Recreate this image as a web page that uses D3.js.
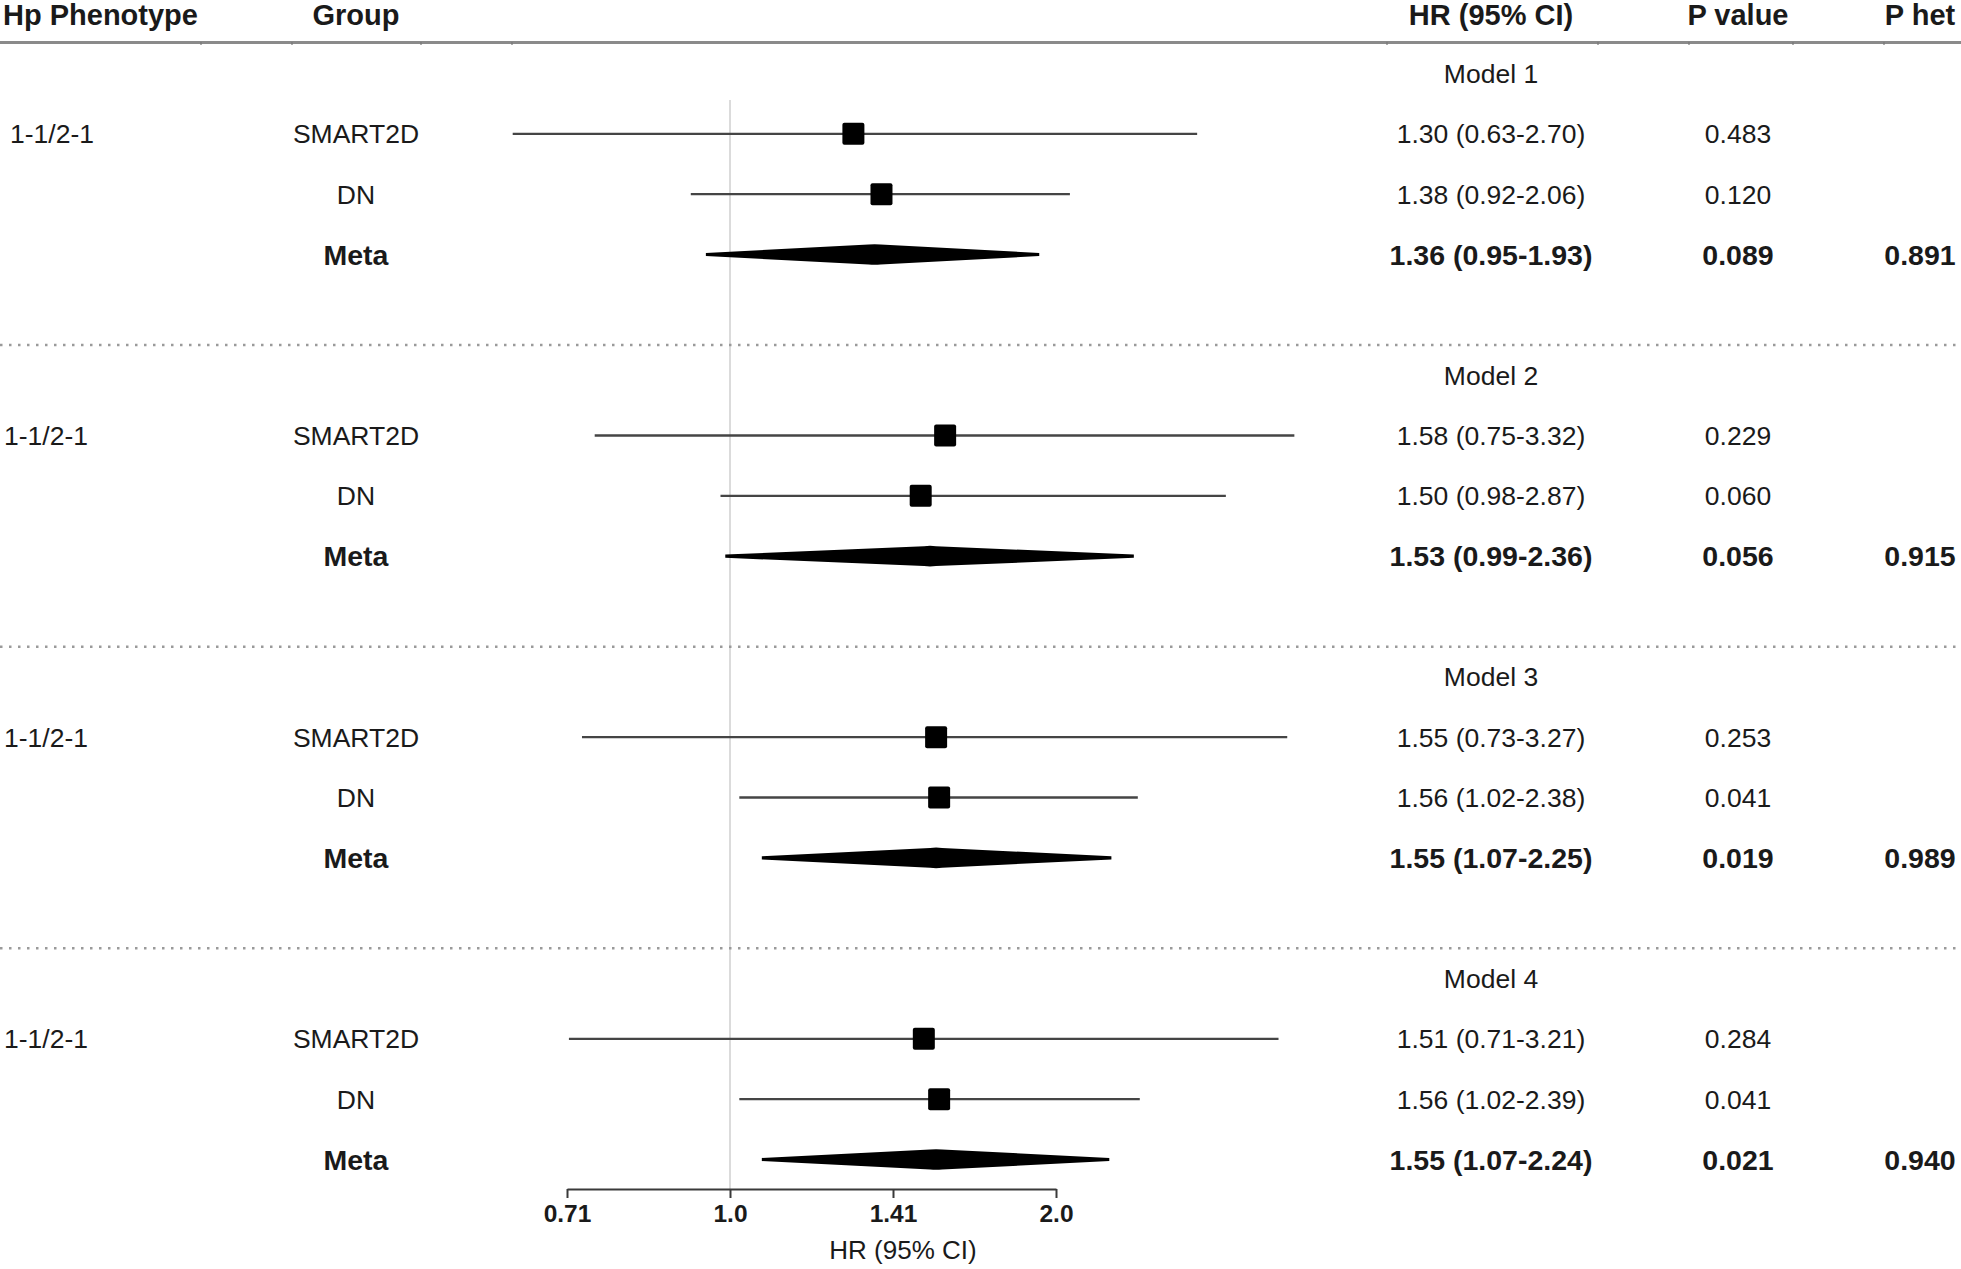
<!DOCTYPE html>
<html>
<head>
<meta charset="utf-8">
<script src="https://cdn.jsdelivr.net/npm/d3@7"></script>
<style>
  html, body { margin: 0; padding: 0; background: #fff; }
  svg { display: block; }
  text { font-family: "Liberation Sans", Arial, Helvetica, sans-serif; fill: #1a1a1a; }
</style>
</head>
<body>
<svg id="chart" width="1961" height="1269"></svg>
<script>
// ---------------- data ----------------
const models = ["Model 1", "Model 2", "Model 3", "Model 4"];
const phenotypes = ["1-1/2-1", "1-1/2-1", "1-1/2-1", "1-1/2-1"];
const groups = ["SMART2D", "DN", "Meta"];
const hrValues = [
  [1.30, 1.38, 1.36],
  [1.58, 1.50, 1.53],
  [1.55, 1.56, 1.55],
  [1.51, 1.56, 1.55]
];
const ciLower = [
  [0.63, 0.92, 0.95],
  [0.75, 0.98, 0.99],
  [0.73, 1.02, 1.07],
  [0.71, 1.02, 1.07]
];
const ciUpper = [
  [2.70, 2.06, 1.93],
  [3.32, 2.87, 2.36],
  [3.27, 2.38, 2.25],
  [3.21, 2.39, 2.24]
];
const pValues = [
  ["0.483", "0.120", "0.089"],
  ["0.229", "0.060", "0.056"],
  ["0.253", "0.041", "0.019"],
  ["0.284", "0.041", "0.021"]
];
const pHet = ["0.891", "0.915", "0.989", "0.940"];
const headers = ["Hp Phenotype", "Group", "HR (95% CI)", "P value", "P het"];
const tickValues = [0.7071, 1.0, 1.4142, 2.0];
const tickLabels = ["0.71", "1.0", "1.41", "2.0"];
const axisTitle = "HR (95% CI)";

// ---------------- layout ----------------
const W = 1961, H = 1269;
const svg = d3.select("#chart");
const x = d3.scaleLog().domain([1, 2]).range([730, 1056]);
const y = d3.scaleLinear().domain([0, 18]).range([73.5, 1159.5]);
const colGroup = 356, colHR = 1491, colP = 1738, colHet = 1920;
const phenoX = [10, 4, 4, 4];
const regSize = 26.5, boldSize = 28.5, headSize = 29;
const axisY = 1189;

const fmt = d3.format(".2f");

// header
const headerPos = [
  {x: 3, anchor: "start"}, {x: colGroup, anchor: "middle"}, {x: colHR, anchor: "middle"},
  {x: colP, anchor: "middle"}, {x: colHet, anchor: "middle"}
];
svg.append("g").selectAll("text").data(headers).join("text")
  .attr("x", (d, i) => headerPos[i].x)
  .attr("y", 25)
  .attr("text-anchor", (d, i) => headerPos[i].anchor)
  .attr("font-size", headSize)
  .attr("font-weight", "bold")
  .text(d => d);

// header rule
svg.append("line").attr("x1", 0).attr("x2", W).attr("y1", 42.5).attr("y2", 42.5)
  .attr("stroke", "#8a8a8a").attr("stroke-width", 3);
svg.append("g").selectAll("line").data([201, 292, 421, 512, 1387, 1598, 1689, 1793, 1884]).join("line")
  .attr("x1", d => d).attr("x2", d => d).attr("y1", 42).attr("y2", 45)
  .attr("stroke", "#777").attr("stroke-width", 1.2);

// reference line at HR = 1
svg.append("line").attr("x1", x(1)).attr("x2", x(1)).attr("y1", 100).attr("y2", axisY)
  .attr("stroke", "#cfcfcf").attr("stroke-width", 1.5);

// separators
svg.append("g").selectAll("line").data([0, 1, 2]).join("line")
  .attr("x1", 0).attr("x2", W)
  .attr("y1", d => y(d * 5 + 4.5)).attr("y2", d => y(d * 5 + 4.5))
  .attr("stroke", "#9a9a9a").attr("stroke-width", 2.5)
  .attr("stroke-dasharray", "2.5,6.5");

// build rows
const rows = [];
models.forEach((m, b) => {
  groups.forEach((g, k) => {
    rows.push({
      block: b, k: k, idx: b * 5 + 1 + k, group: g, meta: g === "Meta",
      hr: hrValues[b][k], lo: ciLower[b][k], hi: ciUpper[b][k],
      p: pValues[b][k], het: g === "Meta" ? pHet[b] : ""
    });
  });
});

const base = (size) => 0.36 * size;

// model labels
svg.append("g").selectAll("text").data(models).join("text")
  .attr("x", colHR).attr("y", (d, i) => y(i * 5) + base(regSize))
  .attr("text-anchor", "middle").attr("font-size", regSize).text(d => d);

// phenotype labels
svg.append("g").selectAll("text").data(phenotypes).join("text")
  .attr("x", (d, i) => phenoX[i]).attr("y", (d, i) => y(i * 5 + 1) + base(regSize))
  .attr("font-size", regSize).text(d => d);

// text columns
const txt = svg.append("g");
txt.selectAll("text.grp").data(rows).join("text").attr("class", "grp")
  .attr("x", colGroup).attr("y", d => y(d.idx) + base(d.meta ? boldSize : regSize))
  .attr("text-anchor", "middle")
  .attr("font-size", d => d.meta ? boldSize : regSize)
  .attr("font-weight", d => d.meta ? "bold" : "normal")
  .text(d => d.group);
txt.selectAll("text.hr").data(rows).join("text").attr("class", "hr")
  .attr("x", colHR).attr("y", d => y(d.idx) + base(d.meta ? boldSize : regSize))
  .attr("text-anchor", "middle")
  .attr("font-size", d => d.meta ? boldSize : regSize)
  .attr("font-weight", d => d.meta ? "bold" : "normal")
  .text(d => `${fmt(d.hr)} (${fmt(d.lo)}-${fmt(d.hi)})`);
txt.selectAll("text.pv").data(rows).join("text").attr("class", "pv")
  .attr("x", colP).attr("y", d => y(d.idx) + base(d.meta ? boldSize : regSize))
  .attr("text-anchor", "middle")
  .attr("font-size", d => d.meta ? boldSize : regSize)
  .attr("font-weight", d => d.meta ? "bold" : "normal")
  .text(d => d.p);
txt.selectAll("text.het").data(rows.filter(d => d.meta)).join("text").attr("class", "het")
  .attr("x", colHet).attr("y", d => y(d.idx) + base(boldSize))
  .attr("text-anchor", "middle")
  .attr("font-size", boldSize).attr("font-weight", "bold")
  .text(d => d.het);

// CI lines and boxes for study rows
const studies = rows.filter(d => !d.meta);
const marks = svg.append("g");
marks.selectAll("line.ci").data(studies).join("line").attr("class", "ci")
  .attr("x1", d => x(d.lo)).attr("x2", d => x(d.hi))
  .attr("y1", d => y(d.idx)).attr("y2", d => y(d.idx))
  .attr("stroke", "#454545").attr("stroke-width", 2.4);
const box = 22;
marks.selectAll("rect.est").data(studies).join("rect").attr("class", "est")
  .attr("x", d => x(d.hr) - box / 2).attr("y", d => y(d.idx) - box / 2)
  .attr("width", box).attr("height", box).attr("rx", 2)
  .attr("fill", "#000");

// diamonds for meta rows
const metas = rows.filter(d => d.meta);
const hh = 10.5, tail = 1.6;
marks.selectAll("path.dia").data(metas).join("path").attr("class", "dia")
  .attr("d", d => {
    const xl = x(d.lo), xc = x(d.hr), xr = x(d.hi), yc = y(d.idx);
    const p = d3.path();
    p.moveTo(xl, yc - tail);
    p.lineTo(xc - 6, yc - hh + 0.6);
    p.quadraticCurveTo(xc, yc - hh - 0.3, xc + 6, yc - hh + 0.6);
    p.lineTo(xr, yc - tail);
    p.lineTo(xr, yc + tail);
    p.lineTo(xc + 6, yc + hh - 0.6);
    p.quadraticCurveTo(xc, yc + hh + 0.3, xc - 6, yc + hh - 0.6);
    p.lineTo(xl, yc + tail);
    p.closePath();
    return p.toString();
  })
  .attr("fill", "#000");

// x axis
const xAxisScale = x.copy().domain([tickValues[0], tickValues[tickValues.length - 1]])
  .range([x(tickValues[0]), x(tickValues[tickValues.length - 1])]);
const axis = d3.axisBottom(xAxisScale)
  .tickValues(tickValues)
  .tickFormat((d, i) => tickLabels[i])
  .tickSize(9).tickSizeOuter(0).tickPadding(7);
const gAxis = svg.append("g").attr("transform", `translate(0,${axisY})`).call(axis);
gAxis.select(".domain").attr("stroke", "#3a3a3a").attr("stroke-width", 2.2);
gAxis.selectAll(".tick line").attr("stroke", "#3a3a3a").attr("stroke-width", 2);
gAxis.selectAll(".tick text")
  .attr("font-family", "'Liberation Sans', Arial, sans-serif")
  .attr("font-size", 24.5).attr("font-weight", "bold").attr("fill", "#333");

svg.append("text").attr("x", 903).attr("y", 1259)
  .attr("text-anchor", "middle").attr("font-size", 26).attr("fill", "#2a2a2a")
  .text(axisTitle);
</script>
</body>
</html>
